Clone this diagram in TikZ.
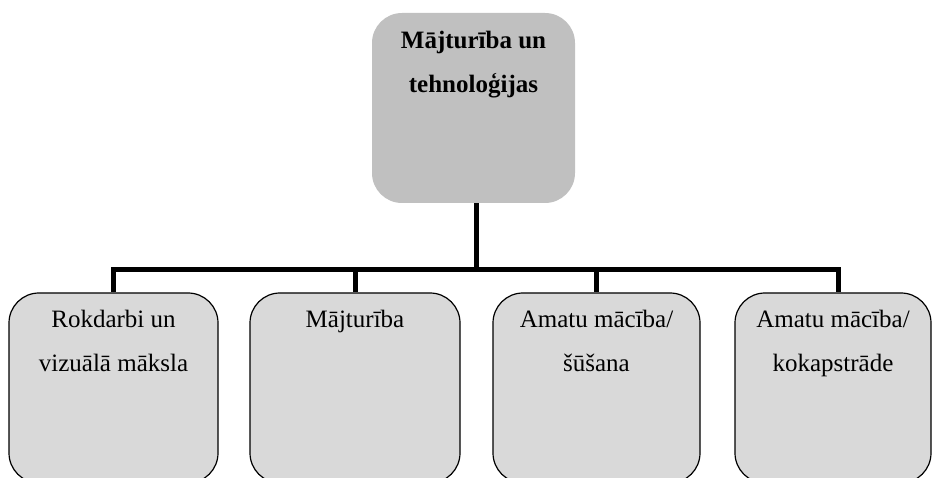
\documentclass[tikz,border=0pt]{standalone}
\usepackage{fontspec}
\setmainfont{Liberation Serif}
\definecolor{topfill}{RGB}{192,192,192}
\definecolor{subfill}{RGB}{217,217,217}
\tikzset{
  topbox/.style={rectangle, rounded corners=30pt, fill=topfill, draw=none},
  subbox/.style={rectangle, rounded corners=30pt, fill=subfill, draw=black, line width=1.2pt},
  boxtext/.style={anchor=north, align=center, inner sep=0pt, font=\fontsize{25}{44}\selectfont},
  conn/.style={line width=5pt, draw=black}
}
\begin{document}
\begin{tikzpicture}[x=1pt, y=-1pt]
\useasboundingbox (0,0) rectangle (932,478);
\clip (0,0) rectangle (932,478);
% top box
\node[topbox, minimum width=203pt, minimum height=190pt] (top) at (473.5,108) {};
\node[boxtext, font=\fontsize{25}{44}\selectfont\bfseries] (toptext) at ([yshift=-18pt]top.north) {Mājturība un\\tehnoloģijas};
% sub boxes
\node[subbox, minimum width=209pt, minimum height=190pt] (b1) at (113.5,388) {};
\node[subbox, minimum width=210pt, minimum height=190pt] (b2) at (355,388) {};
\node[subbox, minimum width=207pt, minimum height=190pt] (b3) at (596.5,388) {};
\node[subbox, minimum width=196pt, minimum height=190pt] (b4) at (833,388) {};
\node[boxtext] (t1) at ([yshift=-18pt]b1.north) {Rokdarbi un\\vizuālā māksla};
\node[boxtext] (t2) at ([yshift=-18pt]b2.north) {Mājturība};
\node[boxtext] (t3) at ([yshift=-18pt]b3.north) {Amatu mācība/\\šūšana};
\node[boxtext] (t4) at ([yshift=-18pt]b4.north) {Amatu mācība/\\kokapstrāde};
% connectors
\coordinate (hl) at (113.5,270);
\coordinate (hr) at (838,270);
\coordinate (hm) at (476,270);
\draw[conn] (top.south -| hm) -- (hm);
\draw[conn, line cap=rect] (hl) -- (hr);
\draw[conn] (hl) -- (b1.north);
\draw[conn] (355,270) -- (b2.north);
\draw[conn] (596.5,270) -- (b3.north);
\draw[conn] (hr) -- (hr |- b4.north);
\end{tikzpicture}
\end{document}
